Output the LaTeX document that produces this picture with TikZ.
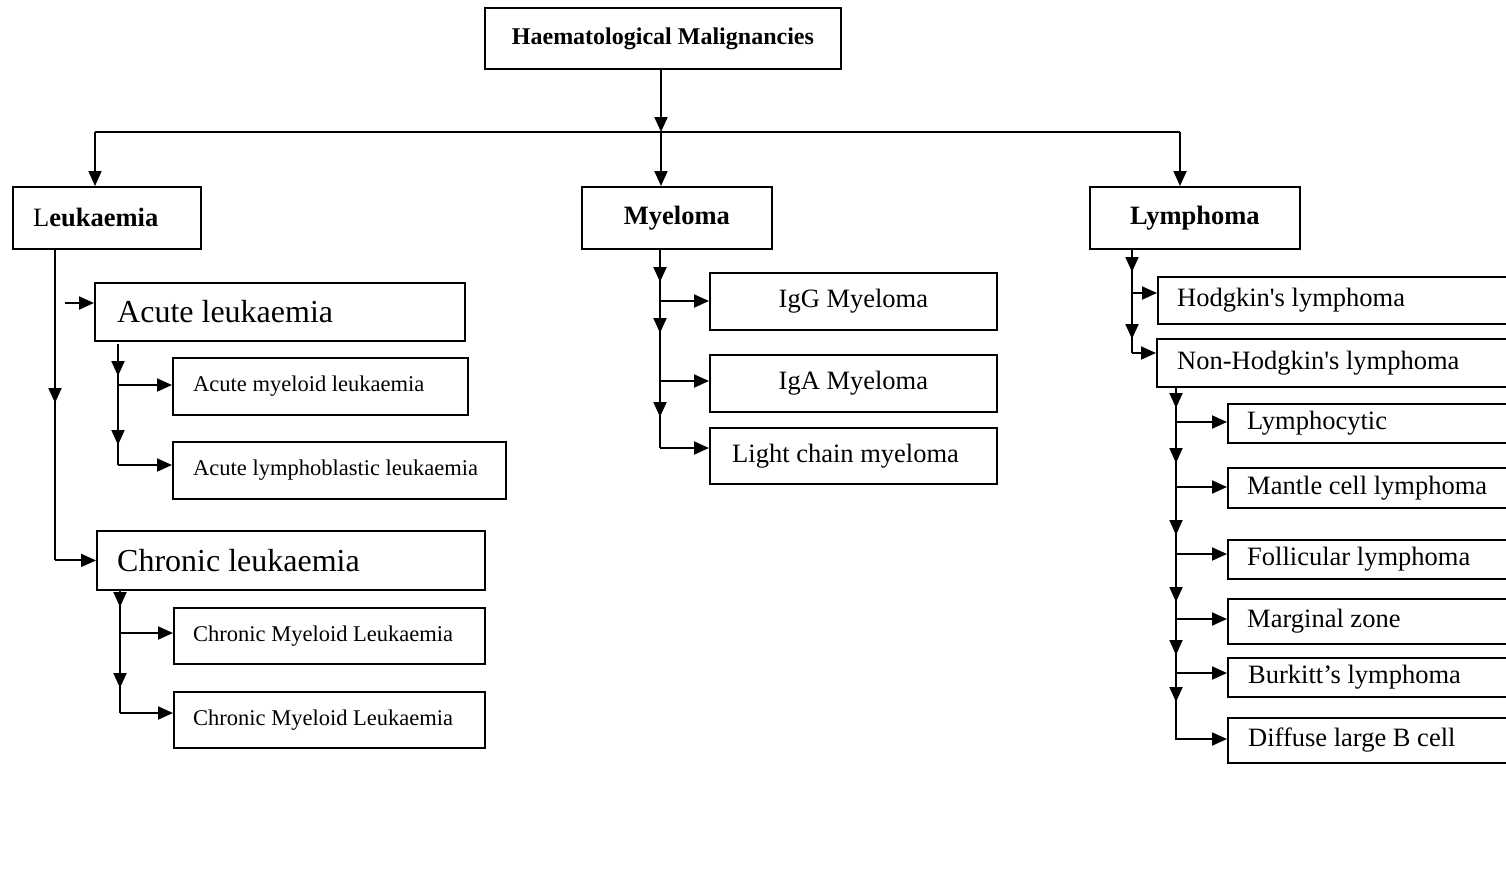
\documentclass[tikz,border=0pt]{standalone}
\usepackage{fontspec}
\setmainfont{Liberation Serif}
\usetikzlibrary{arrows.meta}
\tikzset{
 box/.style={draw, line width=1.8pt, anchor=north west, inner sep=0pt},
 ln/.style={line width=1.9pt},
 arr/.style={ln, -{Triangle[length=15pt,width=13pt]}},
 lbl/.style={anchor=west, inner sep=0pt},
 clbl/.style={inner sep=0pt},
}
\newcommand{\fbig}{\fontsize{32}{36}\selectfont}
\newcommand{\fmid}{\fontsize{26.5}{30}\selectfont}
\newcommand{\fsml}{\fontsize{22.5}{26}\selectfont}
\newcommand{\fhd}{\fontsize{24}{28}\selectfont\bfseries}
\newcommand{\fcat}{\fontsize{26.5}{30}\selectfont\bfseries}
\begin{document}
\begin{tikzpicture}[x=1pt,y=-1pt]
\clip (0,0) rectangle (1506,887);
\fill[white] (0,0) rectangle (1506,887);

% ---------- top ----------
\node[box, minimum width=356pt, minimum height=61pt] (hm) at (484,7) {};
\node[clbl, font=\fhd] (hmt) at (hm.center) {Haematological Malignancies};

\node[box, minimum width=188pt, minimum height=62pt] (leuk) at (12,186) {};
\node[lbl] (leukt) at ([xshift=21pt]leuk.west) {\fontsize{26.5}{30}\selectfont L\bfseries eukaemia};
\node[box, minimum width=190pt, minimum height=62pt] (myel) at (581,186) {};
\node[clbl, font=\fcat] (myelt) at (myel.center) {Myeloma};
\node[box, minimum width=210pt, minimum height=62pt] (lymph) at (1089,186) {};
\node[clbl, font=\fcat] (lympht) at (lymph.center) {Lymphoma};

\coordinate (J) at (661,132);
\coordinate (JL) at (95,132);
\coordinate (JR) at (1180,132);
\draw[arr] (hm.south -| J) -- (J);
\draw[ln] (JL) -- (JR);
\draw[arr] (JL) -- (JL |- leuk.north);
\draw[arr] (J) -- (J |- myel.north);
\draw[arr] (JR) -- (JR |- lymph.north);

% ---------- leukaemia ----------
\node[box, minimum width=370pt, minimum height=58pt] (acute) at (94,282) {};
\node[lbl, font=\fbig] (acutet) at ([xshift=23pt]acute.west) {Acute leukaemia};
\node[box, minimum width=295pt, minimum height=57pt] (aml) at (172,357) {};
\node[lbl, font=\fsml] (amlt) at ([xshift=21pt]aml.west) {Acute myeloid leukaemia};
\node[box, minimum width=333pt, minimum height=57pt] (all) at (172,441) {};
\node[lbl, font=\fsml] (allt) at ([xshift=21pt]all.west) {Acute lymphoblastic leukaemia};
\node[box, minimum width=388pt, minimum height=59pt] (chron) at (96,530) {};
\node[lbl, font=\fbig] (chront) at ([xshift=21pt]chron.west) {Chronic leukaemia};
\node[box, minimum width=311pt, minimum height=56pt] (cmla) at (173,607) {};
\node[lbl, font=\fsml] (cmlat) at ([xshift=20pt]cmla.west) {Chronic Myeloid Leukaemia};
\node[box, minimum width=311pt, minimum height=56pt] (cmlb) at (173,691) {};
\node[lbl, font=\fsml] (cmlbt) at ([xshift=20pt]cmlb.west) {Chronic Myeloid Leukaemia};

\coordinate (Lv) at (55,403);
\draw[ln] (leuk.south -| Lv) -- (Lv |- chron.west);
\draw[arr] (leuk.south -| Lv) -- (Lv);
\draw[arr] (Lv |- chron.west) -- (chron.west);
\coordinate (La) at (65,303);
\draw[arr] (La) -- (La -| acute.west);

\coordinate (Aa) at (118,376);
\coordinate (Ab) at (118,445);
\coordinate (Ah1) at (118,385);
\coordinate (Ah2) at (118,465);
\coordinate (Atop) at (118,344);
\draw[ln] (Atop) -- (Ah2);
\draw[arr] (Atop) -- (Aa);
\draw[arr] (Ah1) -- (Ab);
\draw[arr] (Ah1) -- (Ah1 -| aml.west);
\draw[arr] (Ah2) -- (Ah2 -| all.west);

\coordinate (Ca) at (120,607);
\coordinate (Cb) at (120,688);
\coordinate (Ch1) at (120,633);
\coordinate (Ch2) at (120,713);
\draw[ln] (chron.south -| Ca) -- (Ch2);
\draw[arr] (chron.south -| Ca) -- (Ca);
\draw[arr] (Ch1) -- (Cb);
\draw[arr] (Ch1) -- (Ch1 -| cmla.west);
\draw[arr] (Ch2) -- (Ch2 -| cmlb.west);

% ---------- myeloma ----------
\node[box, minimum width=287pt, minimum height=57pt] (igg) at (709,272) {};
\node[clbl, font=\fmid] (iggt) at (igg.center) {IgG Myeloma};
\node[box, minimum width=287pt, minimum height=57pt] (iga) at (709,354) {};
\node[clbl, font=\fmid] (igat) at (iga.center) {IgA Myeloma};
\node[box, minimum width=287pt, minimum height=56pt] (light) at (709,427) {};
\node[lbl, font=\fmid] (lightt) at ([xshift=23pt]light.west) {Light chain myeloma};

\coordinate (Ma) at (660,282);
\coordinate (Mb) at (660,333);
\coordinate (Mc) at (660,417);
\coordinate (Mh1) at (660,301);
\coordinate (Mh2) at (660,381);
\coordinate (Mh3) at (660,448);
\draw[ln] (myel.south -| Ma) -- (Mh3);
\draw[arr] (myel.south -| Ma) -- (Ma);
\draw[arr] (Mh1) -- (Mb);
\draw[arr] (Mh2) -- (Mc);
\draw[arr] (Mh1) -- (Mh1 -| igg.west);
\draw[arr] (Mh2) -- (Mh2 -| iga.west);
\draw[arr] (Mh3) -- (Mh3 -| light.west);

% ---------- lymphoma ----------
\node[box, minimum width=403pt, minimum height=47pt] (hod) at (1157,276) {};
\node[lbl, font=\fmid] (hodt) at ([xshift=20pt]hod.west) {Hodgkin\textquotesingle s lymphoma};
\node[box, minimum width=404pt, minimum height=48pt] (nhl) at (1156,338) {};
\node[lbl, font=\fmid] (nhlt) at ([xshift=21pt]nhl.west) {Non-Hodgkin\textquotesingle s lymphoma};

\coordinate (Ya) at (1132,272);
\coordinate (Yb) at (1132,339);
\coordinate (Yh1) at (1132,293);
\coordinate (Yh2) at (1132,353);
\draw[ln] (lymph.south -| Ya) -- (Yh2);
\draw[arr] (lymph.south -| Ya) -- (Ya);
\draw[arr] (Yh1) -- (Yb);
\draw[arr] (Yh1) -- (Yh1 -| hod.west);
\draw[arr] (Yh2) -- (Yh2 -| nhl.west);

\node[box, minimum width=333pt, minimum height=39pt] (lc) at (1227,403) {};
\node[lbl, font=\fmid] (lct) at ([xshift=20pt]lc.west) {Lymphocytic};
\node[box, minimum width=333pt, minimum height=40pt] (mc) at (1227,467) {};
\node[lbl, font=\fmid] (mct) at ([xshift=20pt]mc.west) {Mantle cell lymphoma};
\node[box, minimum width=333pt, minimum height=39pt] (fl) at (1227,539) {};
\node[lbl, font=\fmid] (flt) at ([xshift=20pt]fl.west) {Follicular lymphoma};
\node[box, minimum width=333pt, minimum height=45pt] (mz) at (1227,598) {};
\node[lbl, font=\fmid] (mzt) at ([xshift=20pt]mz.west) {Marginal zone};
\node[box, minimum width=333pt, minimum height=39pt] (bl) at (1227,657) {};
\node[lbl, font=\fmid] (blt) at ([xshift=21pt]bl.west) {Burkitt’s lymphoma};
\node[box, minimum width=333pt, minimum height=45pt] (dl) at (1227,717) {};
\node[lbl, font=\fmid] (dlt) at ([xshift=21pt]dl.west) {Diffuse large B cell};

\coordinate (N1) at (1176,408);
\coordinate (N2) at (1176,463);
\coordinate (N3) at (1176,535);
\coordinate (N4) at (1176,602);
\coordinate (N5) at (1176,655);
\coordinate (N6) at (1176,702);
\coordinate (Nh1) at (1177,422);
\coordinate (Nh2) at (1177,487);
\coordinate (Nh3) at (1177,554);
\coordinate (Nh4) at (1177,619);
\coordinate (Nh5) at (1177,673);
\coordinate (Nh6) at (1177,739);
\draw[ln] (nhl.south -| N1) -- (N1 |- Nh6) -- (Nh6);
\draw[arr] (nhl.south -| N1) -- (N1);
\draw[arr] (N1 |- Nh1) -- (N2);
\draw[arr] (N1 |- Nh2) -- (N3);
\draw[arr] (N1 |- Nh3) -- (N4);
\draw[arr] (N1 |- Nh4) -- (N5);
\draw[arr] (N1 |- Nh5) -- (N6);
\draw[arr] (Nh1) -- (Nh1 -| lc.west);
\draw[arr] (Nh2) -- (Nh2 -| mc.west);
\draw[arr] (Nh3) -- (Nh3 -| fl.west);
\draw[arr] (Nh4) -- (Nh4 -| mz.west);
\draw[arr] (Nh5) -- (Nh5 -| bl.west);
\draw[arr] (Nh6) -- (Nh6 -| dl.west);
\end{tikzpicture}
\end{document}
